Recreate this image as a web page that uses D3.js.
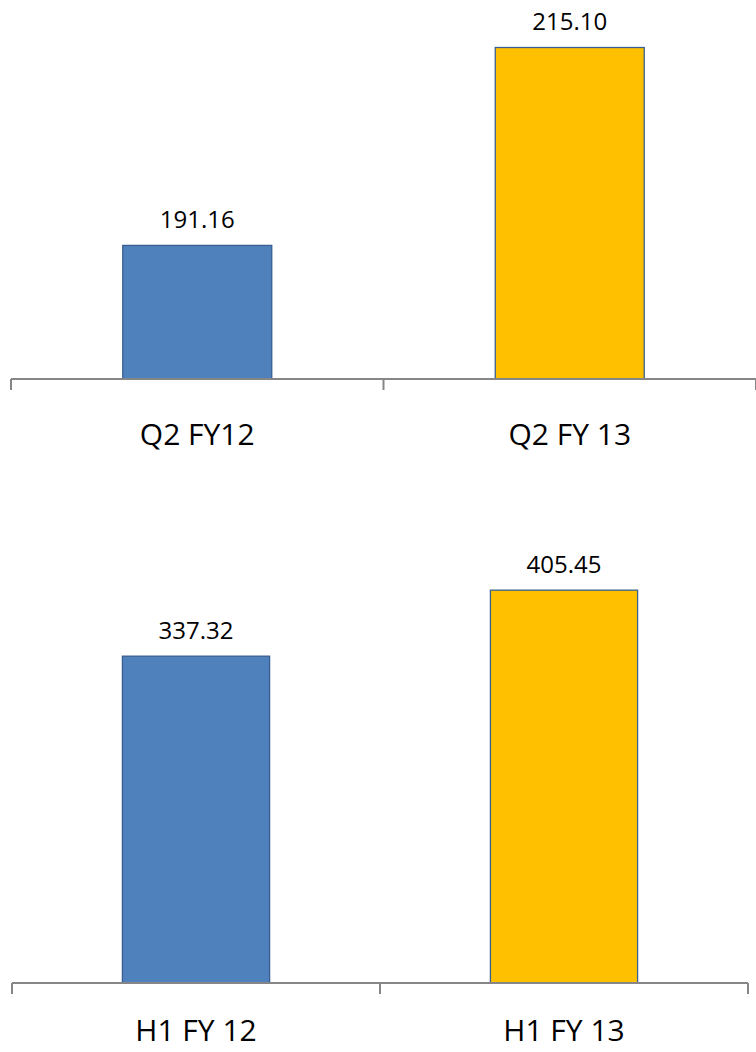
<!DOCTYPE html>
<html>
<head>
<meta charset="utf-8">
<script src="https://cdn.jsdelivr.net/npm/d3@7"></script>
<style>
  html, body { margin: 0; padding: 0; background: #fff; }
  svg { display: block; }
  text { font-family: "Open Sans", "Noto Sans", sans-serif; fill: #000; }
</style>
</head>
<body>
<script>
// Top chart data
const quarterCategories = ["Q2 FY12", "Q2 FY 13"];
const quarterValues = [191.16, 215.10];
const quarterLabels = ["191.16", "215.10"];
// Bottom chart data
const halfCategories = ["H1 FY 12", "H1 FY 13"];
const halfValues = [337.32, 405.45];
const halfLabels = ["337.32", "405.45"];
const barColors = ["#4F81BD", "#FFC000"];

const W = 756, H = 1052;
const svg = d3.select("body").append("svg").attr("width", W).attr("height", H);

function drawChart(cfg) {
  const g = svg.append("g");
  const x = d3.scaleBand().domain(cfg.categories).range([cfg.x0, cfg.x1]).padding(0);
  const y = d3.scaleLinear().domain(cfg.domain).range([cfg.axisY, cfg.topY]);
  const barW = x.bandwidth() * 0.4;

  g.selectAll("rect.bar").data(cfg.values).join("rect")
    .attr("class", "bar")
    .attr("x", (d, i) => x(cfg.categories[i]) + (x.bandwidth() - barW) / 2)
    .attr("y", d => y(d))
    .attr("width", barW)
    .attr("height", d => y(cfg.domain[0]) - y(d))
    .attr("fill", (d, i) => barColors[i])
    .attr("stroke", "#3A5F8E")
    .attr("stroke-width", 1.3);

  g.selectAll("text.val").data(cfg.values).join("text")
    .attr("class", "val")
    .attr("x", (d, i) => x(cfg.categories[i]) + x.bandwidth() / 2)
    .attr("y", d => y(d) - 17.5)
    .attr("text-anchor", "middle")
    .attr("font-size", 24)
    .text((d, i) => cfg.labels[i]);

  // category axis
  const axisG = g.append("g").attr("transform", `translate(0,${cfg.axisY})`);
  axisG.append("line")
    .attr("x1", cfg.x0).attr("x2", cfg.x1)
    .attr("stroke", "#868686").attr("stroke-width", 2);
  const edges = [cfg.x0].concat(cfg.categories.map(c => x(c) + x.bandwidth()));
  axisG.selectAll("line.tick").data(edges).join("line")
    .attr("class", "tick")
    .attr("x1", d => d).attr("x2", d => d)
    .attr("y1", 0).attr("y2", 11)
    .attr("stroke", "#868686").attr("stroke-width", 2);
  axisG.selectAll("text.cat").data(cfg.categories).join("text")
    .attr("class", "cat")
    .attr("x", d => x(d) + x.bandwidth() / 2)
    .attr("y", cfg.labelDy)
    .attr("text-anchor", "middle")
    .attr("font-size", 30)
    .text(d => d);
}

drawChart({
  categories: quarterCategories, values: quarterValues, labels: quarterLabels,
  domain: [175, 220], x0: 11, x1: 756, axisY: 379, topY: 7, labelDy: 66
});
drawChart({
  categories: halfCategories, values: halfValues, labels: halfLabels,
  domain: [0, 450], x0: 12, x1: 748, axisY: 983, topY: 547, labelDy: 58
});
</script>
</body>
</html>
